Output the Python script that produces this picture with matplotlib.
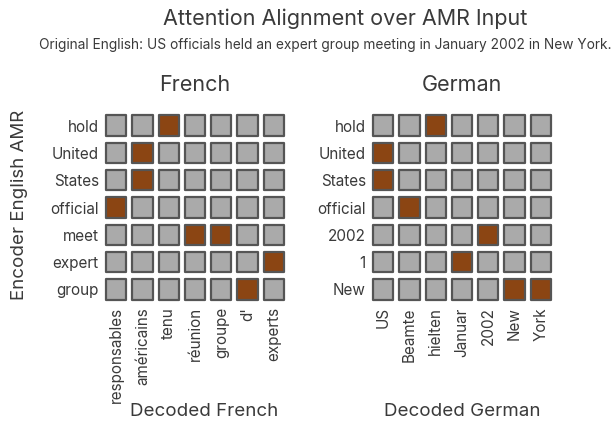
import matplotlib
matplotlib.use("Agg")
import matplotlib.pyplot as plt
import numpy as np

plt.rcParams['font.family'] = ['Inter', 'DejaVu Sans']
plt.rcParams['text.color'] = '#3a3a3a'

# encoder rows (English AMR) and decoded columns
fr_rows = ["hold", "United", "States", "official", "meet", "expert", "group"]
fr_cols = ["responsables", "américains", "tenu", "réunion", "groupe", "d'", "experts"]
fr_align = [
    [0, 0, 1, 0, 0, 0, 0],
    [0, 1, 0, 0, 0, 0, 0],
    [0, 1, 0, 0, 0, 0, 0],
    [1, 0, 0, 0, 0, 0, 0],
    [0, 0, 0, 1, 1, 0, 0],
    [0, 0, 0, 0, 0, 0, 1],
    [0, 0, 0, 0, 0, 1, 0],
]

de_rows = ["hold", "United", "States", "official", "2002", "1", "New"]
de_cols = ["US", "Beamte", "hielten", "Januar", "2002", "New", "York"]
de_align = [
    [0, 0, 1, 0, 0, 0, 0],
    [1, 0, 0, 0, 0, 0, 0],
    [1, 0, 0, 0, 0, 0, 0],
    [0, 1, 0, 0, 0, 0, 0],
    [0, 0, 0, 0, 1, 0, 0],
    [0, 0, 0, 1, 0, 0, 0],
    [0, 0, 0, 0, 0, 1, 1],
]

fig = plt.figure(figsize=(6.15, 4.25), dpi=100)

def panel(rect, rows, cols, align, title):
    ax = fig.add_axes(rect)
    a = np.array(align)
    yy, xx = np.mgrid[0:a.shape[0], 0:a.shape[1]]
    colors = np.where(a.ravel() > 0, '#8B4513', '#AAAAAA')
    ax.scatter(xx.ravel(), yy.ravel(), s=215, marker='s', c=colors,
               edgecolors='#555555', linewidths=1.6)
    ax.set_xlim(-0.5, len(cols) - 0.5)
    ax.set_ylim(len(rows) - 0.5, -0.5)
    ax.set_xticks(range(len(cols)))
    ax.set_xticklabels(cols, rotation=90, fontsize=11, color='#3a3a3a')
    ax.set_yticks(range(len(rows)))
    ax.set_yticklabels(rows, fontsize=11, color='#3a3a3a')
    ax.tick_params(length=0, pad=3)
    for s in ax.spines.values():
        s.set_visible(False)
    ax.set_title(title, fontsize=15.5, color='#3a3a3a', pad=15)
    return ax

ax1 = panel([103/615, 1 - 303/425, 184/615, 191/425], fr_rows, fr_cols, fr_align, "French")
ax2 = panel([370/615, 1 - 303/425, 184/615, 191/425], de_rows, de_cols, de_align, "German")

fig.text(20/615, 1 - 205/425, "Encoder English AMR", rotation=90,
         ha='center', va='center', fontsize=13.5)

fig.text(204/615, 1 - 412/425, "Decoded French", ha='center', va='center', fontsize=13.5)
fig.text(462/615, 1 - 412/425, "Decoded German", ha='center', va='center', fontsize=13.5)

fig.text(345/615, 1 - 19/425, "Attention Alignment over AMR Input",
         ha='center', va='center', fontsize=15.5)
fig.text(325/615, 1 - 45/425,
         "Original English: US officials held an expert group meeting in January 2002 in New York.",
         ha='center', va='center', fontsize=9.9)

fig.savefig("out.png", dpi=100)
